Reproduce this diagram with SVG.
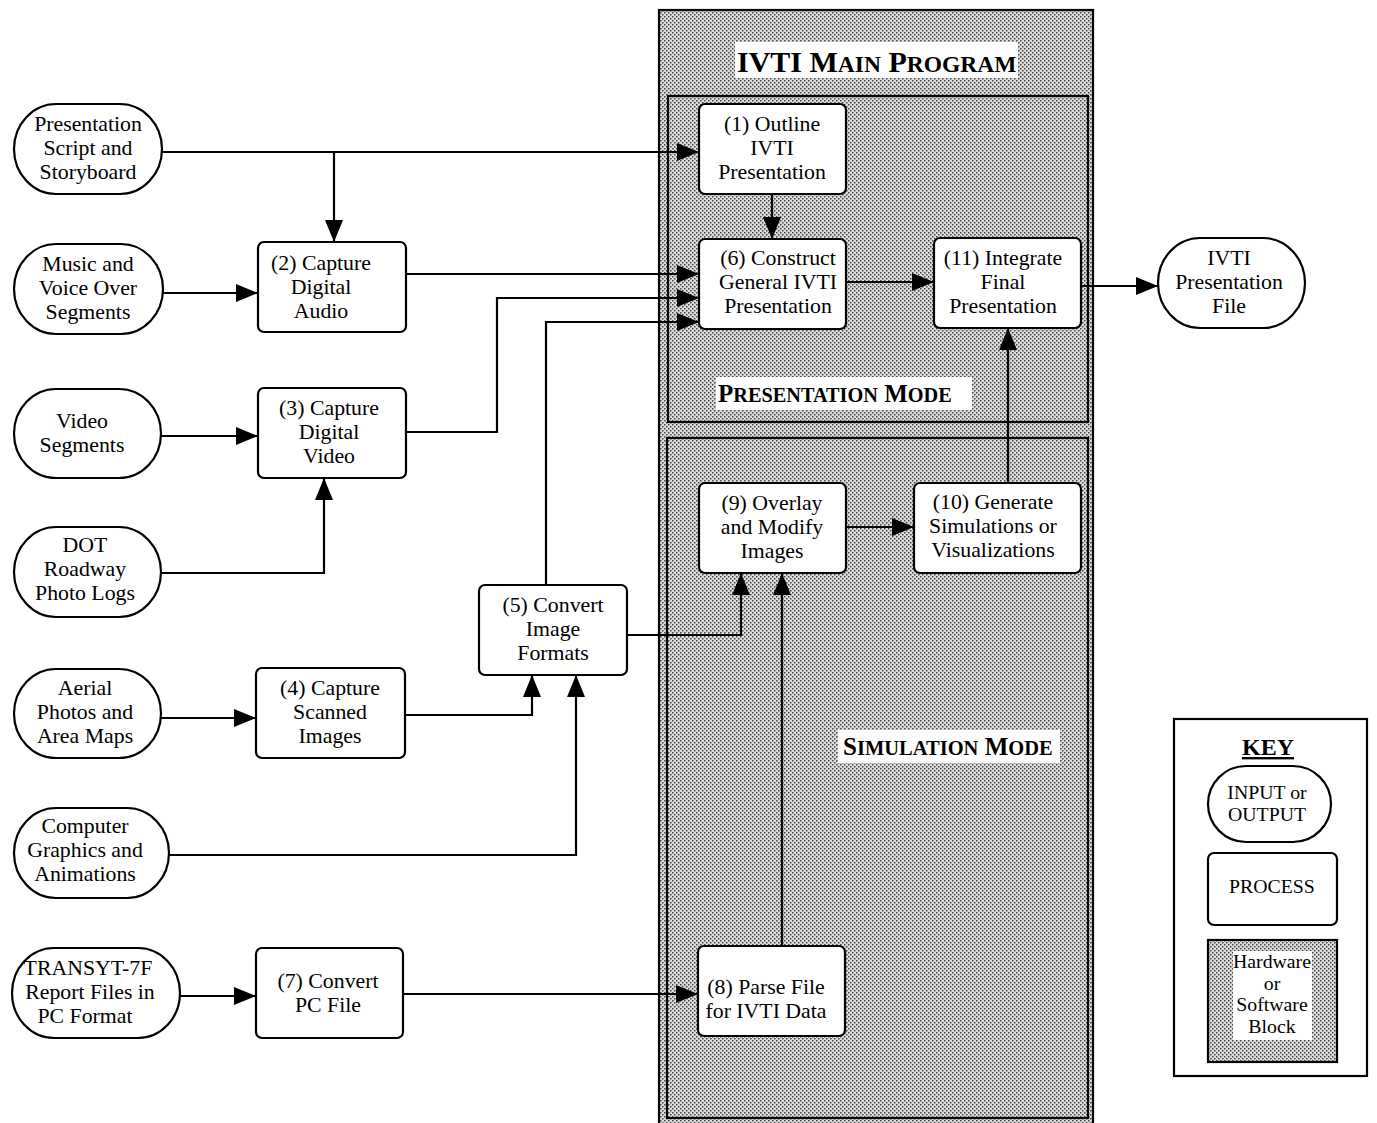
<svg xmlns="http://www.w3.org/2000/svg" width="1377" height="1123" viewBox="0 0 1377 1123">
<defs>
<pattern id="dots" width="4" height="4" patternUnits="userSpaceOnUse">
<rect width="4" height="4" fill="#dcdcdc"/>
<rect x="0" y="0" width="1.5" height="1.5" fill="#444"/>
<rect x="2" y="2" width="1.5" height="1.5" fill="#444"/>
</pattern>
<marker id="arr" markerUnits="userSpaceOnUse" markerWidth="22" markerHeight="18" refX="22" refY="9" orient="auto">
<path d="M0,0 L22,9 L0,18 Z" fill="#000"/>
</marker>
</defs>
<style>
.io{fill:#fff;stroke:#000;stroke-width:2.2}
.pr{fill:#fff;stroke:#000;stroke-width:2.2}
.blk{fill:url(#dots);stroke:#000;stroke-width:2.2}
.t{font-family:"Liberation Serif","Times New Roman",serif;font-size:21.8px;fill:#000;text-anchor:middle}
.k{font-family:"Liberation Serif","Times New Roman",serif;font-size:19.8px;fill:#000;text-anchor:middle}
.h{font-family:"Liberation Serif","Times New Roman",serif;font-weight:bold;fill:#000}
.c{fill:none;stroke:#000;stroke-width:2.2;marker-end:url(#arr)}
</style>
<rect width="1377" height="1123" fill="#fff"/>

<g id="main-program">
<rect class="blk" x="659" y="10" width="434" height="1125"/>
<rect x="735" y="42" width="283" height="36" fill="#fff"/>
<text class="h" x="737" y="72" font-size="30">IVTI M<tspan font-size="23.5">AIN</tspan> P<tspan font-size="23.5">ROGRAM</tspan></text>
</g>
<g id="presentation-mode">
<rect class="blk" x="668" y="96" width="420" height="326"/>
<rect x="716" y="377" width="256" height="33" fill="#fff"/>
<text class="h" x="718" y="402" font-size="25">P<tspan font-size="20.3">RESENTATION</tspan> M<tspan font-size="20.3">ODE</tspan></text>
</g>
<g id="simulation-mode">
<rect class="blk" x="667" y="438" width="421" height="680"/>
<rect x="838" y="730" width="222" height="33" fill="#fff"/>
<text class="h" x="843" y="755" font-size="25">S<tspan font-size="20.5">IMULATION</tspan> M<tspan font-size="20.5">ODE</tspan></text>
</g>

<g id="connectors">
<path class="c" d="M162,152 H699"/>
<path class="c" d="M334,152 V242"/>
<path class="c" d="M163,293 H258"/>
<path class="c" d="M406,274 H699"/>
<path class="c" d="M406,432 H497 V298 H699"/>
<path class="c" d="M546,585 V322 H699"/>
<path class="c" d="M772,194 V239"/>
<path class="c" d="M846,282 H934"/>
<path class="c" d="M1081,286 H1158"/>
<path class="c" d="M1008,483 V328"/>
<path class="c" d="M846,527 H914"/>
<path class="c" d="M161,436 H258"/>
<path class="c" d="M161,573 H324 V478"/>
<path class="c" d="M161,718 H256"/>
<path class="c" d="M405,715 H532 V675"/>
<path class="c" d="M169,855 H576 V675"/>
<path class="c" d="M627,635 H741 V573"/>
<path class="c" d="M782,946 V573"/>
<path class="c" d="M180,996 H256"/>
<path class="c" d="M403,994 H698"/>
</g>

<g id="n-script">
<rect class="io" x="14" y="104" width="148" height="90" rx="42" ry="45"/>
<text class="t" x="88" y="131">Presentation</text>
<text class="t" x="88" y="155">Script and</text>
<text class="t" x="88" y="179">Storyboard</text>
</g>
<g id="n-music">
<rect class="io" x="14" y="244" width="149" height="90" rx="42" ry="45"/>
<text class="t" x="88" y="271">Music and</text>
<text class="t" x="88" y="295">Voice Over</text>
<text class="t" x="88" y="319">Segments</text>
</g>
<g id="n-video">
<rect class="io" x="14" y="389" width="147" height="89" rx="42" ry="44.5"/>
<text class="t" x="82" y="428">Video</text>
<text class="t" x="82" y="452">Segments</text>
</g>
<g id="n-dot">
<rect class="io" x="14" y="527" width="147" height="90" rx="42" ry="45"/>
<text class="t" x="85" y="552">DOT</text>
<text class="t" x="85" y="576">Roadway</text>
<text class="t" x="85" y="600">Photo Logs</text>
</g>
<g id="n-aerial">
<rect class="io" x="14" y="669" width="147" height="89" rx="42" ry="44.5"/>
<text class="t" x="85" y="695">Aerial</text>
<text class="t" x="85" y="719">Photos and</text>
<text class="t" x="85" y="743">Area Maps</text>
</g>
<g id="n-graphics">
<rect class="io" x="14" y="808" width="155" height="90" rx="42" ry="45"/>
<text class="t" x="85" y="833">Computer</text>
<text class="t" x="85" y="857">Graphics and</text>
<text class="t" x="85" y="881">Animations</text>
</g>
<g id="n-transyt">
<rect class="io" x="12" y="948" width="168" height="90" rx="42" ry="45"/>
<text class="t" x="88" y="975">TRANSYT-7F</text>
<text class="t" x="90" y="999">Report Files in</text>
<text class="t" x="85" y="1023">PC Format</text>
</g>
<g id="n-file">
<rect class="io" x="1158" y="238" width="147" height="90" rx="42" ry="45"/>
<text class="t" x="1229" y="265">IVTI</text>
<text class="t" x="1229" y="289">Presentation</text>
<text class="t" x="1229" y="313">File</text>
</g>

<g id="p2">
<rect class="pr" x="258" y="242" width="148" height="90" rx="6"/>
<text class="t" x="321" y="270">(2) Capture</text>
<text class="t" x="321" y="294">Digital</text>
<text class="t" x="321" y="318">Audio</text>
</g>
<g id="p3">
<rect class="pr" x="258" y="388" width="148" height="90" rx="6"/>
<text class="t" x="329" y="415">(3) Capture</text>
<text class="t" x="329" y="439">Digital</text>
<text class="t" x="329" y="463">Video</text>
</g>
<g id="p4">
<rect class="pr" x="256" y="668" width="149" height="90" rx="6"/>
<text class="t" x="330" y="695">(4) Capture</text>
<text class="t" x="330" y="719">Scanned</text>
<text class="t" x="330" y="743">Images</text>
</g>
<g id="p5">
<rect class="pr" x="479" y="585" width="148" height="90" rx="6"/>
<text class="t" x="553" y="612">(5) Convert</text>
<text class="t" x="553" y="636">Image</text>
<text class="t" x="553" y="660">Formats</text>
</g>
<g id="p7">
<rect class="pr" x="256" y="948" width="147" height="90" rx="6"/>
<text class="t" x="328" y="988">(7) Convert</text>
<text class="t" x="328" y="1012">PC File</text>
</g>
<g id="p1">
<rect class="pr" x="699" y="104" width="147" height="90" rx="6"/>
<text class="t" x="772" y="131">(1) Outline</text>
<text class="t" x="772" y="155">IVTI</text>
<text class="t" x="772" y="179">Presentation</text>
</g>
<g id="p6">
<rect class="pr" x="699" y="239" width="147" height="90" rx="6"/>
<text class="t" x="778" y="265">(6) Construct</text>
<text class="t" x="778" y="289">General IVTI</text>
<text class="t" x="778" y="313">Presentation</text>
</g>
<g id="p11">
<rect class="pr" x="934" y="238" width="147" height="90" rx="6"/>
<text class="t" x="1003" y="265">(11) Integrate</text>
<text class="t" x="1003" y="289">Final</text>
<text class="t" x="1003" y="313">Presentation</text>
</g>
<g id="p9">
<rect class="pr" x="699" y="483" width="147" height="90" rx="6"/>
<text class="t" x="772" y="510">(9) Overlay</text>
<text class="t" x="772" y="534">and Modify</text>
<text class="t" x="772" y="558">Images</text>
</g>
<g id="p10">
<rect class="pr" x="914" y="483" width="167" height="90" rx="6"/>
<text class="t" x="993" y="509">(10) Generate</text>
<text class="t" x="993" y="533">Simulations or</text>
<text class="t" x="993" y="557">Visualizations</text>
</g>
<g id="p8">
<rect class="pr" x="698" y="946" width="147" height="90" rx="6"/>
<text class="t" x="766" y="994">(8) Parse File</text>
<text class="t" x="766" y="1018">for IVTI Data</text>
</g>

<g id="key">
<rect x="1174" y="719" width="193" height="357" fill="#fff" stroke="#000" stroke-width="2.2"/>
<text class="h" x="1268" y="755" font-size="24" text-anchor="middle" text-decoration="underline">KEY</text>
<rect class="io" x="1208" y="766" width="123" height="76" rx="38" ry="38"/>
<text class="k" x="1267" y="799">INPUT or</text>
<text class="k" x="1267" y="821">OUTPUT</text>
<rect class="pr" x="1208" y="853" width="129" height="72" rx="6"/>
<text class="k" x="1272" y="893">PROCESS</text>
<rect class="blk" x="1208" y="940" width="129" height="122"/>
<rect x="1233" y="951" width="79" height="89" fill="#fff"/>
<text class="k" x="1272" y="968">Hardware</text>
<text class="k" x="1272" y="990">or</text>
<text class="k" x="1272" y="1011">Software</text>
<text class="k" x="1272" y="1033">Block</text>
</g>
</svg>
